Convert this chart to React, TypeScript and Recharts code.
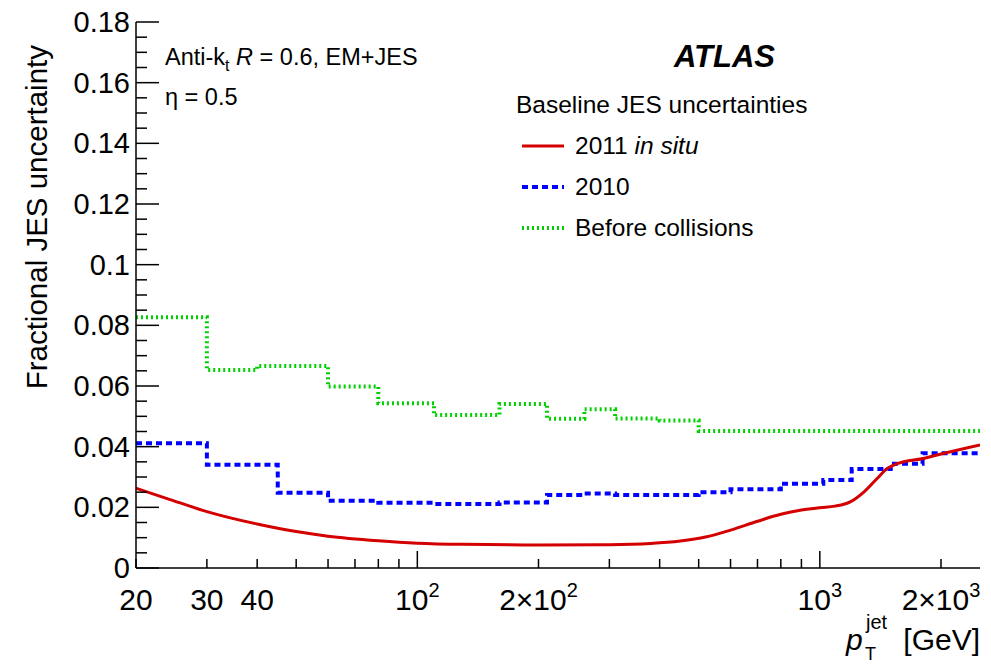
import { LineChart, Line, XAxis, YAxis, Legend } from "recharts"

const FONT = "'Liberation Sans', Arial, Helvetica, sans-serif"

// 2011 in situ uncertainty (smooth curve)
const insituPt = [20, 24, 30, 40, 50, 60, 80, 100, 130, 200, 300, 380, 450, 520, 600, 700, 800, 900, 1000, 1090, 1190, 1290, 1390, 1470, 1550, 1820, 2000, 2500]
const insituUnc = [0.0263, 0.0228, 0.0186, 0.0145, 0.012, 0.0105, 0.009, 0.0082, 0.0078, 0.0076, 0.0077, 0.0081, 0.0089, 0.0102, 0.0125, 0.0154, 0.0177, 0.0191, 0.0199, 0.0204, 0.0218, 0.0252, 0.0296, 0.0328, 0.0343, 0.0362, 0.0376, 0.0406]

// 2010 uncertainty, binned (low bin edges + last edge)
const run2010Pt = [20, 30, 45, 60, 80, 110, 160, 210, 260, 310, 500, 600, 800, 1020, 1200, 1500, 1800, 2500]
const run2010Unc = [0.0411, 0.034, 0.0248, 0.0222, 0.0215, 0.0211, 0.0216, 0.0241, 0.0246, 0.0241, 0.025, 0.026, 0.0278, 0.029, 0.0326, 0.0344, 0.0378, 0.0378]

// before collisions, binned
const mcPt = [20, 30, 40, 60, 80, 110, 160, 210, 260, 310, 400, 500, 2500]
const mcUnc = [0.0827, 0.0653, 0.0666, 0.0598, 0.0543, 0.0504, 0.0541, 0.0492, 0.0523, 0.0493, 0.0486, 0.0452, 0.0452]

const xTicks = [20, 30, 40, 50, 60, 70, 80, 90, 100, 200, 300, 400, 500, 600, 700, 800, 900, 1000, 2000]
const xLabelValues = [20, 30, 40, 100, 200, 1000, 2000]
const xLabelText = ["20", "30", "40", "10^2", "2×10^2", "10^3", "2×10^3"]

const yTicks = [
  0, 0.005, 0.01, 0.015, 0.02, 0.025, 0.03, 0.035, 0.04, 0.045, 0.05, 0.055, 0.06, 0.065, 0.07, 0.075,
  0.08, 0.085, 0.09, 0.095, 0.1, 0.105, 0.11, 0.115, 0.12, 0.125, 0.13, 0.135, 0.14, 0.145, 0.15, 0.155,
  0.16, 0.165, 0.17, 0.175, 0.18,
]

const toPoints = (pt: number[], unc: number[]) => pt.map((p, i) => ({ pt: p, unc: unc[i] }))
const insituData = toPoints(insituPt, insituUnc)
const run2010Data = toPoints(run2010Pt, run2010Unc)
const mcData = toPoints(mcPt, mcUnc)

const isYMajor = (v: number) => Math.abs(v / 0.02 - Math.round(v / 0.02)) < 1e-6
const isXMajor = (v: number) => v === 100 || v === 1000

function PowerLabel({ text, x, y }: { text: string; x: number; y: number }) {
  const [base, exp] = text.split("^")
  return (
    <text x={x} y={y} textAnchor="middle" fontSize={30} fontFamily={FONT} fill="#000">
      <tspan>{base}</tspan>
      {exp && (
        <tspan dy={-13} fontSize={20}>
          {exp}
        </tspan>
      )}
    </text>
  )
}

function BottomTick(props: any) {
  const { x, y, payload } = props
  const v = payload.value
  const i = xLabelValues.indexOf(v)
  return (
    <g>
      <line x1={x} y1={y} x2={x} y2={y - (isXMajor(v) ? 17 : 9)} stroke="#000" strokeWidth={1.5} />
      {i >= 0 && <PowerLabel text={xLabelText[i]} x={x} y={y + 42} />}
    </g>
  )
}

function TopTick(props: any) {
  const { x, y, payload } = props
  return <line x1={x} y1={y} x2={x} y2={y + (isXMajor(payload.value) ? 17 : 9)} stroke="#000" strokeWidth={1.5} />
}

function LeftTick(props: any) {
  const { x, y, payload } = props
  const v = payload.value
  const major = isYMajor(v)
  return (
    <g>
      <line x1={x} y1={y} x2={x + (major ? 23 : 11)} y2={y} stroke="#000" strokeWidth={1.5} />
      {major && (
        <text x={x - 6} y={y + 10} textAnchor="end" fontSize={29} fontFamily={FONT} fill="#000">
          {String(+v.toFixed(2))}
        </text>
      )}
    </g>
  )
}

function RightTick(props: any) {
  const { x, y, payload } = props
  return <line x1={x} y1={y} x2={x - (isYMajor(payload.value) ? 23 : 11)} y2={y} stroke="#000" strokeWidth={1.5} />
}

const legendRows = [
  { key: "insitu", color: "#d40000", width: 3, dash: undefined },
  { key: "2010", color: "#0000ff", width: 4, dash: "6 4" },
  { key: "mc", color: "#00d000", width: 4, dash: "2 3" },
]

function JesLegend() {
  return (
    <div style={{ fontFamily: FONT, color: "#000", fontSize: 24.5 }}>
      <div style={{ height: 41, lineHeight: "41px", whiteSpace: "nowrap" }}>Baseline JES uncertainties</div>
      {legendRows.map((row) => (
        <div key={row.key} style={{ height: 41, display: "flex", alignItems: "center", whiteSpace: "nowrap" }}>
          <svg width={42} height={8} style={{ marginLeft: 6, marginRight: 11 }}>
            <line x1={0} y1={4} x2={42} y2={4} stroke={row.color} strokeWidth={row.width} strokeDasharray={row.dash} />
          </svg>
          {row.key === "insitu" ? (
            <span>
              2011 <i>in situ</i>
            </span>
          ) : row.key === "2010" ? (
            <span>2010</span>
          ) : (
            <span>Before collisions</span>
          )}
        </div>
      ))}
    </div>
  )
}

export default function App() {
  return (
    <div style={{ position: "absolute", left: 0, top: 0, width: 991, height: 667, background: "#fff", fontFamily: FONT }}>
      <LineChart width={991} height={667} margin={{ top: 22, right: 11, bottom: 0, left: 0 }}>
        <XAxis
          dataKey="pt"
          type="number"
          scale="log"
          domain={[20, 2500]}
          allowDataOverflow
          ticks={xTicks}
          interval={0}
          height={99}
          tickSize={0}
          tickMargin={0}
          tickLine={false}
          axisLine={{ stroke: "#000", strokeWidth: 1.5 }}
          tick={(p: any) => <BottomTick {...p} />}
          label={{
            content: () => (
              <g fontFamily={FONT} fill="#000">
                <text x={846} y={650} fontSize={30} fontStyle="italic">p</text>
                <text x={866} y={629} fontSize={20}>jet</text>
                <text x={865} y={660} fontSize={18}>T</text>
                <text x={980} y={650} fontSize={30} textAnchor="end">[GeV]</text>
              </g>
            ),
          }}
        />
        <XAxis
          xAxisId="top"
          orientation="top"
          dataKey="pt"
          type="number"
          scale="log"
          domain={[20, 2500]}
          allowDataOverflow
          ticks={xTicks}
          interval={0}
          height={0}
          tickSize={0}
          tickMargin={0}
          tickLine={false}
          axisLine={{ stroke: "#000", strokeWidth: 1.5 }}
          tick={(p: any) => <TopTick {...p} />}
        />
        <YAxis
          type="number"
          domain={[0, 0.18]}
          ticks={yTicks}
          interval={0}
          width={136}
          tickSize={0}
          tickMargin={0}
          tickLine={false}
          axisLine={{ stroke: "#000", strokeWidth: 1.5 }}
          tick={(p: any) => <LeftTick {...p} />}
          label={{
            content: () => (
              <text
                transform="translate(47,45) rotate(-90)"
                textAnchor="end"
                fontSize={29.5}
                fontFamily={FONT}
                fill="#000"
              >
                Fractional JES uncertainty
              </text>
            ),
          }}
        />
        <YAxis
          yAxisId="right"
          orientation="right"
          type="number"
          domain={[0, 0.18]}
          ticks={yTicks}
          interval={0}
          width={0}
          tickSize={0}
          tickMargin={0}
          tickLine={false}
          axisLine={{ stroke: "#000", strokeWidth: 1.5 }}
          tick={(p: any) => <RightTick {...p} />}
        />
        <Line
          data={mcData}
          dataKey="unc"
          type="stepAfter"
          stroke="#00d000"
          strokeWidth={4}
          strokeDasharray="2 3"
          dot={false}
          isAnimationActive={false}
        />
        <Line
          data={run2010Data}
          dataKey="unc"
          type="stepAfter"
          stroke="#0000ff"
          strokeWidth={4}
          strokeDasharray="6 4"
          dot={false}
          isAnimationActive={false}
        />
        <Line
          data={insituData}
          dataKey="unc"
          type="monotone"
          stroke="#d40000"
          strokeWidth={3}
          dot={false}
          isAnimationActive={false}
        />
        <Legend
          layout="horizontal"
          verticalAlign="middle"
          align="center"
          content={() => <JesLegend />}
          wrapperStyle={{ left: 516, top: 84, width: 320, height: 164 }}
        />
      </LineChart>

      <div style={{ position: "absolute", left: 165, top: 44, fontSize: 23.5, lineHeight: "26px", whiteSpace: "nowrap" }}>
        Anti-k<span style={{ fontSize: 16, position: "relative", top: 6 }}>t</span> <i>R</i> = 0.6, EM+JES
      </div>
      <div style={{ position: "absolute", left: 165, top: 84, fontSize: 23.5, lineHeight: "26px", whiteSpace: "nowrap" }}>
        η = 0.5
      </div>
      <div
        style={{
          position: "absolute",
          right: 216,
          top: 41,
          fontSize: 31,
          lineHeight: "32px",
          fontWeight: "bold",
          fontStyle: "italic",
        }}
      >
        ATLAS
      </div>
    </div>
  )
}
